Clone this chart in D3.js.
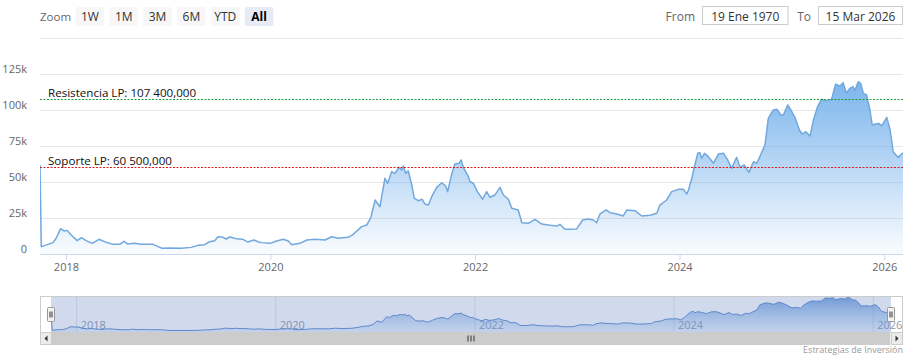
<!DOCTYPE html>
<html><head><meta charset="utf-8">
<script src="https://cdn.jsdelivr.net/npm/d3@7"></script>
<style>
html,body{margin:0;padding:0;background:#fff;}
svg{display:block;font-family:"Open Sans",sans-serif;}
</style></head><body>
<svg id="c" width="911" height="363"></svg>
<script>
// ---------- DATA ----------
const dates = ["1970-01-19","2017-10-05","2017-10-29","2017-11-16","2017-11-27","2017-12-13","2017-12-25","2018-01-05","2018-01-20","2018-02-10","2018-02-25","2018-03-14","2018-04-05","2018-04-29","2018-05-25","2018-06-18","2018-07-12","2018-07-27","2018-08-10","2018-09-03","2018-09-27","2018-11-08","2018-11-26","2018-12-10","2019-01-06","2019-02-17","2019-03-24","2019-04-17","2019-05-11","2019-05-29","2019-06-16","2019-06-28","2019-07-16","2019-07-27","2019-08-09","2019-09-01","2019-09-25","2019-10-13","2019-11-03","2019-11-24","2019-12-01","2019-12-31","2020-01-23","2020-02-16","2020-03-05","2020-03-17","2020-04-16","2020-05-10","2020-06-08","2020-07-14","2020-08-07","2020-08-30","2020-10-05","2020-10-23","2020-11-22","2020-12-10","2020-12-25","2021-01-09","2021-01-26","2021-02-13","2021-02-23","2021-03-09","2021-03-21","2021-04-04","2021-04-14","2021-04-20","2021-04-28","2021-05-07","2021-05-20","2021-05-29","2021-06-12","2021-06-26","2021-07-06","2021-07-18","2021-07-30","2021-08-17","2021-09-04","2021-09-18","2021-09-25","2021-10-10","2021-10-21","2021-11-05","2021-11-12","2021-11-20","2021-12-08","2021-12-14","2021-12-26","2022-01-09","2022-01-28","2022-02-11","2022-02-23","2022-03-13","2022-03-31","2022-04-12","2022-04-30","2022-05-12","2022-06-04","2022-06-17","2022-07-10","2022-08-03","2022-08-27","2022-09-26","2022-10-20","2022-10-31","2022-11-18","2022-12-06","2022-12-30","2023-01-20","2023-02-09","2023-02-27","2023-03-11","2023-03-23","2023-04-14","2023-04-28","2023-05-22","2023-06-14","2023-06-27","2023-07-26","2023-08-19","2023-09-18","2023-10-12","2023-10-23","2023-11-16","2023-12-04","2023-12-28","2024-01-15","2024-01-27","2024-02-02","2024-02-14","2024-02-23","2024-03-06","2024-03-14","2024-03-20","2024-03-30","2024-04-13","2024-05-01","2024-05-19","2024-06-06","2024-06-21","2024-07-05","2024-07-23","2024-08-04","2024-08-19","2024-09-05","2024-09-21","2024-10-03","2024-10-14","2024-11-01","2024-11-13","2024-12-01","2024-12-13","2024-12-28","2025-01-06","2025-01-21","2025-02-02","2025-02-16","2025-03-04","2025-03-14","2025-03-27","2025-04-11","2025-04-23","2025-05-08","2025-05-22","2025-06-09","2025-06-27","2025-07-11","2025-07-27","2025-08-07","2025-08-19","2025-08-31","2025-09-12","2025-09-18","2025-09-30","2025-10-09","2025-10-18","2025-10-30","2025-11-11","2025-11-19","2025-12-01","2025-12-13","2025-12-23","2026-01-10","2026-01-22","2026-02-02","2026-02-20","2026-03-09"];
const prices = [62000,5100,6700,7900,10900,17600,16000,16400,13200,9300,11300,9300,7400,10200,8100,6700,6700,8800,6900,7400,6700,6700,5100,4000,4200,4000,4600,6000,6500,8500,9200,12000,11600,10400,11800,10600,10200,8300,9700,8100,7900,7400,9000,10200,9000,6500,7400,9700,10200,9700,12000,10900,11600,13700,19000,20100,25500,37500,32800,52600,49100,57200,56000,60200,58300,61100,56000,57800,47900,38700,37000,38000,34700,34000,39800,46300,49500,47200,43300,56000,62500,63000,65300,60200,53700,50200,49100,43300,38000,43300,39400,41000,46300,41000,38000,31700,30600,21700,21300,24100,20800,19900,19400,20600,17200,17200,17400,23600,24300,23600,21700,27800,30600,28700,27800,26400,30600,30100,26400,26900,28300,34000,37500,43300,44900,44900,41700,44400,52600,60600,69900,70300,66400,69900,67600,63000,69400,69900,65300,59500,67100,60200,61800,56700,64100,63000,67600,75700,94200,100000,100500,96500,96500,103500,100000,94900,86100,83300,84900,81900,93000,102300,107400,106500,107400,118000,116700,119000,111600,115000,116200,113400,119600,118500,111600,110400,100000,89600,90300,90700,88900,94900,86100,71000,67100,70300];
const yTickValues = [0, 25000, 50000, 75000, 100000, 125000, 150000];
const yTickLabels = ["0", "25k", "50k", "75k", "100k", "125k", ""];
const xTickYears = [2018, 2020, 2022, 2024, 2026];
const plotLineValues = [107400, 60500];
const plotLineLabels = ["Resistencia LP: 107 400,000", "Soporte LP: 60 500,000"];
const zoomButtons = ["1W", "1M", "3M", "6M", "YTD", "All"];
const selectedButton = "All";
const inputLabels = ["From", "To"];
const inputValues = ["19 Ene 1970", "15 Mar 2026"];
const creditsText = "Estrategias de Inversión";

// ---------- STYLE / LAYOUT ----------
const plotLineColors = ["#1e9e36", "#e01b1b"];
const lineColor = "#72a8de";
const fillColor = "#7cb5ec";
const P = {left: 40, right: 903, top: 38, bottom: 254};
const N = {left: 40, right: 903, top: 296, bottom: 332, inL: 51, inR: 891};
const SB = {top: 332, h: 13};

const svg = d3.select("#c");
const parse = d3.timeParse("%Y-%m-%d");
const data = dates.map((d, i) => ({date: parse(d), value: prices[i]}));
const n = data.length;

// ordinal-like placement: the 1970 point sits one step before the first real point
const x = d3.scaleTime()
  .domain([data[0].date, data[1].date, data[n - 1].date])
  .range([P.left, P.left + 1.3, P.right]);
const y = d3.scaleLinear().domain([0, 150000]).range([P.bottom, P.top]);

// defs
const defs = svg.append("defs");
const grad = defs.append("linearGradient").attr("id", "g1")
  .attr("gradientUnits", "userSpaceOnUse")
  .attr("x1", 0).attr("x2", 0)
  .attr("y1", y(d3.max(prices.slice(1)))).attr("y2", P.bottom);
grad.append("stop").attr("offset", 0).attr("stop-color", fillColor).attr("stop-opacity", 1);
grad.append("stop").attr("offset", 1).attr("stop-color", fillColor).attr("stop-opacity", 0.04);
defs.append("clipPath").attr("id", "clip").append("rect")
  .attr("x", P.left).attr("y", P.top - 2).attr("width", P.right - P.left).attr("height", P.bottom - P.top + 2);

// ---------- Y AXIS + GRID ----------
const yAxis = d3.axisLeft(y).tickValues(yTickValues)
  .tickSize(-(P.right - P.left)).tickPadding(13)
  .tickFormat((d, i) => yTickLabels[i]);
const gy = svg.append("g").attr("transform", `translate(${P.left},0)`).call(yAxis);
gy.select(".domain").remove();
gy.selectAll(".tick line").attr("stroke", "#e6e6e6");
gy.selectAll(".tick text").attr("fill", "#666").attr("font-size", 11)
  .attr("font-family", "Open Sans").attr("dy", "-1.5");

// ---------- X AXIS ----------
const xAxis = d3.axisBottom(x).tickValues(xTickYears.map(v => new Date(v, 0, 1)))
  .tickSize(6).tickSizeOuter(0).tickPadding(3).tickFormat(d3.timeFormat("%Y"));
const gx = svg.append("g").attr("transform", `translate(0,${P.bottom})`).call(xAxis);
gx.select(".domain").attr("stroke", "#ccd6eb").attr("d", `M${P.left},0.5H${P.right}`);
gx.selectAll(".tick line").attr("stroke", "#ccd6eb");
gx.selectAll(".tick text").attr("fill", "#666").attr("font-size", 11).attr("font-family", "Open Sans");

// ---------- SERIES ----------
const area = d3.area().x(d => x(d.date)).y0(y(0)).y1(d => y(d.value));
const line = d3.line().x(d => x(d.date)).y(d => y(d.value));
const gs = svg.append("g").attr("clip-path", "url(#clip)");
gs.append("path").datum(data).attr("d", area).attr("fill", "url(#g1)");
gs.append("path").datum(data).attr("d", line).attr("fill", "none")
  .attr("stroke", lineColor).attr("stroke-width", 1.5).attr("stroke-linejoin", "round");

// ---------- PLOT LINES ----------
plotLineValues.forEach((v, i) => {
  const yy = Math.round(y(v)) + 0.5;
  svg.append("path").attr("d", `M${P.left},${yy}H${P.right}`)
    .attr("stroke", plotLineColors[i]).attr("stroke-width", 1.1).attr("stroke-dasharray", "2,1.5")
    .attr("fill", "none");
  svg.append("text").attr("x", P.left + 8).attr("y", yy - 3)
    .attr("font-size", 11.6).attr("fill", "#111").text(plotLineLabels[i]);
});

// ---------- NAVIGATOR ----------
const xn = d3.scaleTime().domain(x.domain())
  .range([N.inL, N.inL + 1.3 * (N.inR - N.inL) / (P.right - P.left), N.inR]);
const yn = d3.scaleLinear().domain(d3.extent(prices)).range([N.bottom - 1.5, N.top + 1.5]);

const nAxis = d3.axisBottom(xn).tickValues(xTickYears.map(v => new Date(v, 0, 1)))
  .tickSize(N.bottom - N.top).tickSizeOuter(0).tickFormat(d3.timeFormat("%Y"));
const gn = svg.append("g").attr("transform", `translate(0,${N.top})`).call(nAxis);
gn.select(".domain").remove();
gn.selectAll(".tick line").attr("stroke", "#dfe3ea");
gn.selectAll(".tick text").attr("fill", "#8d96ac").attr("font-size", 11)
  .attr("font-family", "Open Sans").attr("text-anchor", "start")
  .attr("x", 4).attr("y", 33).attr("dy", 0);

const nArea = d3.area().x(d => xn(d.date)).y0(N.bottom).y1(d => yn(d.value));
const nLine = d3.line().x(d => xn(d.date)).y(d => yn(d.value));
const ngrad = defs.append("linearGradient").attr("id", "g2")
  .attr("gradientUnits", "userSpaceOnUse").attr("x1", 0).attr("x2", 0)
  .attr("y1", N.top).attr("y2", N.bottom);
ngrad.append("stop").attr("offset", 0).attr("stop-color", "#5c8fd6").attr("stop-opacity", 0.85);
ngrad.append("stop").attr("offset", 1).attr("stop-color", "#7cb5ec").attr("stop-opacity", 0.15);
svg.append("path").datum(data).attr("d", nArea).attr("fill", "url(#g2)");
svg.append("path").datum(data).attr("d", nLine).attr("fill", "none")
  .attr("stroke", "#5a8ad0").attr("stroke-width", 1);

// mask over the selected range
svg.append("rect").attr("x", N.inL).attr("y", N.top).attr("width", N.inR - N.inL)
  .attr("height", N.bottom - N.top).attr("fill", "rgba(102,133,194,0.3)");
// outline
svg.append("path").attr("d", `M${N.left},${N.top + 0.5}H${N.right}M${N.left + 0.5},${N.top}V${N.bottom}M${N.right - 0.5},${N.top}V${N.bottom}`)
  .attr("stroke", "#cccccc").attr("fill", "none");

// handles
[N.inL, N.inR].forEach(hx => {
  const g = svg.append("g").attr("transform", `translate(${Math.round(hx) - 3.5},${N.top + 11.5})`);
  g.append("rect").attr("width", 7).attr("height", 14).attr("rx", 1)
    .attr("fill", "#f2f2f2").attr("stroke", "#999");
  g.append("path").attr("d", "M2.5,4V10M4.5,4V10").attr("stroke", "#333").attr("stroke-width", 1);
});

// ---------- SCROLLBAR ----------
svg.append("rect").attr("x", N.left).attr("y", SB.top).attr("width", N.right - N.left).attr("height", SB.h)
  .attr("fill", "#f2f2f2");
svg.append("rect").attr("x", N.inL + 1).attr("y", SB.top).attr("width", N.inR - N.inL - 2).attr("height", SB.h)
  .attr("fill", "#cccccc");
[[N.left, -1], [N.right - 12, 1]].forEach(([bx, dir]) => {
  svg.append("rect").attr("x", bx + 0.5).attr("y", SB.top + 0.5).attr("width", 11).attr("height", SB.h - 1)
    .attr("fill", "#ebebeb").attr("stroke", "#cccccc");
  const cx = bx + 6, cy = SB.top + SB.h / 2;
  svg.append("path").attr("d", dir < 0
      ? `M${cx + 1.5},${cy - 3}L${cx - 1.5},${cy}L${cx + 1.5},${cy + 3}Z`
      : `M${cx - 1.5},${cy - 3}L${cx + 1.5},${cy}L${cx - 1.5},${cy + 3}Z`)
    .attr("fill", "#333");
});
const rx = (N.inL + N.inR) / 2, ry = SB.top + SB.h / 2;
svg.append("path").attr("d", `M${rx - 3},${ry - 3}V${ry + 3}M${rx},${ry - 3}V${ry + 3}M${rx + 3},${ry - 3}V${ry + 3}`)
  .attr("stroke", "#333").attr("stroke-width", 1);

// ---------- RANGE SELECTOR ----------
svg.append("text").attr("x", 40).attr("y", 20.5).attr("font-size", 11.5).attr("fill", "#666").text("Zoom");
const bx = d3.scaleBand().domain(zoomButtons).range([75.5, 75.5 + 33 * zoomButtons.length]).paddingInner(5 / 33).paddingOuter(0);
const gb = svg.append("g").selectAll("g").data(zoomButtons).join("g")
  .attr("transform", d => `translate(${bx(d)},7)`);
gb.append("rect").attr("width", bx.bandwidth()).attr("height", 19).attr("rx", 2)
  .attr("fill", d => d === selectedButton ? "#e6ebf5" : "#f7f7f7");
gb.append("text").attr("x", bx.bandwidth() / 2).attr("y", 13.5).attr("text-anchor", "middle")
  .attr("font-size", 12).attr("fill", d => d === selectedButton ? "#000" : "#333")
  .attr("font-weight", d => d === selectedButton ? "bold" : "normal").text(d => d);

// inputs
const inputBoxes = [{lx: 695, bx: 702.5, w: 85.5}, {lx: 811, bx: 818.5, w: 84}];
inputBoxes.forEach((b, i) => {
  svg.append("text").attr("x", b.lx).attr("y", 20.5).attr("text-anchor", "end")
    .attr("font-size", 12).attr("fill", "#666").text(inputLabels[i]);
  svg.append("rect").attr("x", b.bx).attr("y", 6.5).attr("width", b.w).attr("height", 18)
    .attr("fill", "#fff").attr("stroke", "#cccccc");
  svg.append("text").attr("x", b.bx + b.w / 2).attr("y", 20.5).attr("text-anchor", "middle")
    .attr("font-size", 12).attr("fill", "#333").text(inputValues[i]);
});

// credits
svg.append("text").attr("x", 903).attr("y", 353).attr("text-anchor", "end")
  .attr("font-size", 9).attr("fill", "#999").text(creditsText);
</script>
</body></html>
